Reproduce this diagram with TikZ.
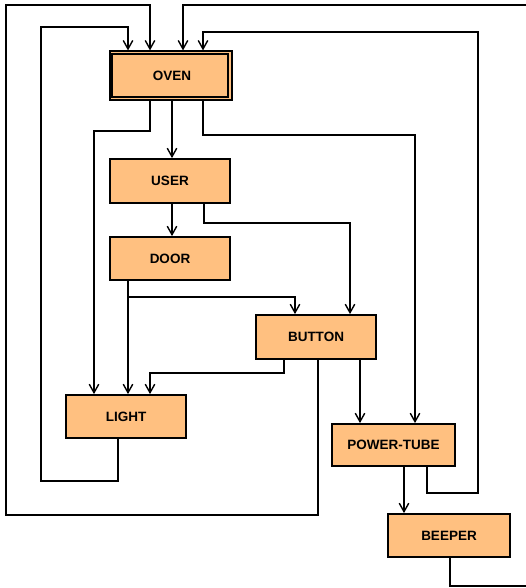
\documentclass[tikz,border=0pt]{standalone}
\usepackage{fontspec}
\setmainfont{Liberation Sans}
\usetikzlibrary{arrows.meta,calc}
\definecolor{boxfill}{HTML}{FFC080}
\tikzset{
  lbl/.style={font=\fontsize{13.5}{15}\selectfont\bfseries},
  blk/.style={draw=black, line width=1.8pt, fill=boxfill, minimum width=120pt, minimum height=44pt, inner sep=0pt, lbl},
  conn/.style={line width=1.4pt, draw=black, line join=miter},
  arr/.style={conn, -{Straight Barb[length=8.5pt,width=9.5pt,line width=1.4pt]}},
}
\begin{document}
\begin{tikzpicture}[x=1pt,y=-1pt]
\useasboundingbox (0,0) rectangle (526,588);
\clip (0,0) rectangle (526,588);
% nodes
\node[blk, line width=1.2pt, minimum width=122pt, minimum height=49pt] (oven) at (171,75.5) {};
\draw[line width=2pt] ($(oven.north west)+(2.5,4)$) rectangle ($(oven.south east)+(-5,-4)$);
\node[lbl] (oventxt) at (172,76) {OVEN};
\node[blk] (user) at (170,181) {USER};
\node[blk, minimum height=43pt] (door) at (170,258.5) {DOOR};
\node[blk] (button) at (316,337) {BUTTON};
\node[blk, minimum height=43pt] (light) at (126,416.5) {LIGHT};
\node[blk, minimum width=123pt, minimum height=42pt] (pt) at (393.5,445) {POWER-TUBE};
\node[blk, minimum width=122pt, minimum height=43pt] (beeper) at (449,535.5) {BEEPER};
% connectors
\draw[arr] (172,0 |- oven.south) -- (172,0 |- user.north);
\draw[arr] (150,0 |- oven.south) -- (150,131) -- (94,131) -- (94,0 |- light.north);
\draw[arr] (203,0 |- oven.south) -- (203,135) -- (415,135) -- (415,0 |- pt.north);
\draw[arr] (172,0 |- user.south) -- (172,0 |- door.north);
\draw[arr] (204,0 |- user.south) -- (204,223) -- (350,223) -- (350,0 |- button.north);
\draw[arr] (128,0 |- door.south) -- (128,0 |- light.north);
\draw[arr] (128,0 |- door.south) -- (128,297) -- (295,297) -- (295,0 |- button.north);
\draw[arr] (284,0 |- button.south) -- (284,373) -- (150,373) -- (150,0 |- light.north);
\draw[arr] (360,0 |- button.south) -- (360,0 |- pt.north);
\draw[arr] (318,0 |- button.south) -- (318,515) -- (6,515) -- (6,5) -- (150,5) -- (150,0 |- oven.north);
\draw[arr] (118,0 |- light.south) -- (118,481) -- (41,481) -- (41,27) -- (128,27) -- (128,0 |- oven.north);
\draw[arr] (404,0 |- pt.south) -- (404,0 |- beeper.north);
\draw[arr] (427,0 |- pt.south) -- (427,493) -- (478,493) -- (478,32) -- (203,32) -- (203,0 |- oven.north);
\draw[arr] (450,0 |- beeper.south) -- (450,586) -- (540,586) -- (540,5) -- (183,5) -- (183,0 |- oven.north);
\end{tikzpicture}
\end{document}
